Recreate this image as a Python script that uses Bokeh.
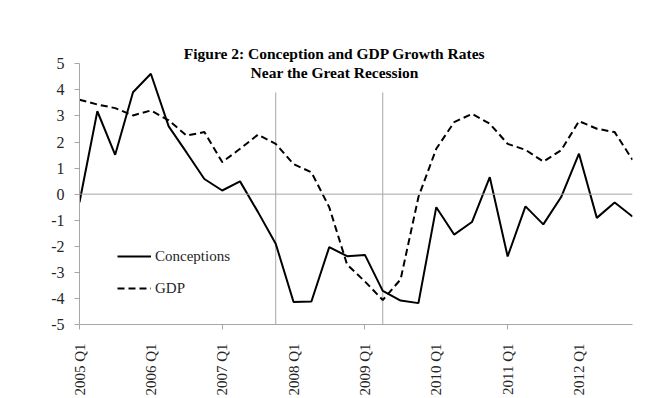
import math
from bokeh.plotting import figure
from bokeh.models import FixedTicker, Range1d, Span, Label, Legend, LegendItem
from bokeh.embed import file_html
from bokeh.resources import INLINE

# ---- data ----
quarters = [f"{y} Q{q}" for y in range(2005, 2013) for q in range(1, 5)]
conceptions = [-0.31, 3.18, 1.51, 3.91, 4.62, 2.60, 1.60, 0.58, 0.14, 0.49,
               -0.68, -1.90, -4.14, -4.12, -2.03, -2.38, -2.33, -3.71, -4.08, -4.18,
               -0.50, -1.55, -1.07, 0.65, -2.39, -0.47, -1.16, -0.11, 1.55, -0.91,
               -0.32, -0.86]
gdp = [3.62, 3.44, 3.30, 3.02, 3.21, 2.83, 2.25, 2.38, 1.23, 1.74,
       2.28, 1.93, 1.15, 0.84, -0.50, -2.70, -3.35, -4.06, -3.27, -0.11,
       1.74, 2.76, 3.08, 2.70, 1.93, 1.70, 1.25, 1.68, 2.80, 2.51,
       2.38, 1.32]
recession_quarters = ["2007 Q4", "2009 Q2"]
recession_top = 3.9
y_ticks = list(range(-5, 6))
y_tick_labels = ["-5", "-4", "-3", "-2", "-1", "0", "1", "2", "3", "4", "5"]
label_quarters = [q for q in quarters if q.endswith("Q1")]
tick_quarters = ["2005 Q1", "2007 Q1", "2009 Q1", "2011 Q1"]
title_lines = ["Figure 2: Conception and GDP Growth Rates", "Near the Great Recession"]

idx = list(range(len(quarters)))
FONT = "Liberation Serif"
GREY = "#a6a6a6"
px_per_unit = 26.07
frame_h = 294

p = figure(frame_width=553, frame_height=frame_h,
           x_range=Range1d(0, len(quarters) - 1),
           y_range=Range1d(-5, -5 + frame_h / px_per_unit),
           output_backend="svg", toolbar_location=None,
           min_border_left=79, min_border_right=14,
           min_border_top=30, min_border_bottom=60)
p.xgrid.visible = False
p.ygrid.visible = False
p.outline_line_color = None

# zero line
p.add_layout(Span(location=0, dimension="width", line_color=GREY, line_width=1))

# recession markers
rx = [quarters.index(q) for q in recession_quarters]
p.segment(x0=rx, y0=[-5] * len(rx), x1=rx, y1=[recession_top] * len(rx),
          line_color=GREY, line_width=1)

r1 = p.line(idx, conceptions, line_color="black", line_width=2)
r2 = p.line(idx, gdp, line_color="black", line_width=2, line_dash="7 4")

# y axis
ya = p.yaxis[0]
ya.ticker = FixedTicker(ticks=y_ticks, minor_ticks=[])
ya.major_label_overrides = dict(zip(y_ticks, y_tick_labels))
ya.bounds = (-5, 5)
ya.axis_line_color = GREY
ya.major_tick_line_color = GREY
ya.major_tick_out = 5
ya.major_tick_in = 0
ya.minor_tick_line_color = None
ya.major_label_text_font = FONT
ya.major_label_text_font_size = "16px"
ya.major_label_text_color = "#262626"
ya.major_label_standoff = 10

# x axis
xa = p.xaxis[0]
xa.ticker = FixedTicker(ticks=[quarters.index(q) for q in label_quarters],
                        minor_ticks=[quarters.index(q) for q in tick_quarters])
xa.major_label_overrides = {quarters.index(q): q for q in label_quarters}
xa.axis_line_color = GREY
xa.major_tick_line_color = None
xa.major_tick_out = 0
xa.major_tick_in = 0
xa.minor_tick_line_color = GREY
xa.minor_tick_out = 5
xa.minor_tick_in = 0
xa.major_label_orientation = math.pi / 2
xa.major_label_text_font = FONT
xa.major_label_text_font_size = "15px"
xa.major_label_text_color = "#262626"
xa.major_label_standoff = 14

# title
for txt, yv in zip(title_lines, [5.40, 4.68]):
    p.add_layout(Label(x=14.3, y=yv, text=txt, text_align="center",
                       text_baseline="middle", text_font=FONT,
                       text_font_size="15.5px", text_font_style="bold",
                       text_color="black"))

legend = Legend(items=[LegendItem(label="Conceptions", renderers=[r1]),
                       LegendItem(label="GDP", renderers=[r2])],
                location=(38, 26), border_line_color=None,
                background_fill_alpha=0, padding=0, margin=0, spacing=12,
                glyph_width=34, glyph_height=20, label_height=20,
                label_standoff=4, label_text_font=FONT,
                label_text_font_size="15px", label_text_color="#262626")
p.add_layout(legend)

open("out.html", "w").write(file_html(p, INLINE))
